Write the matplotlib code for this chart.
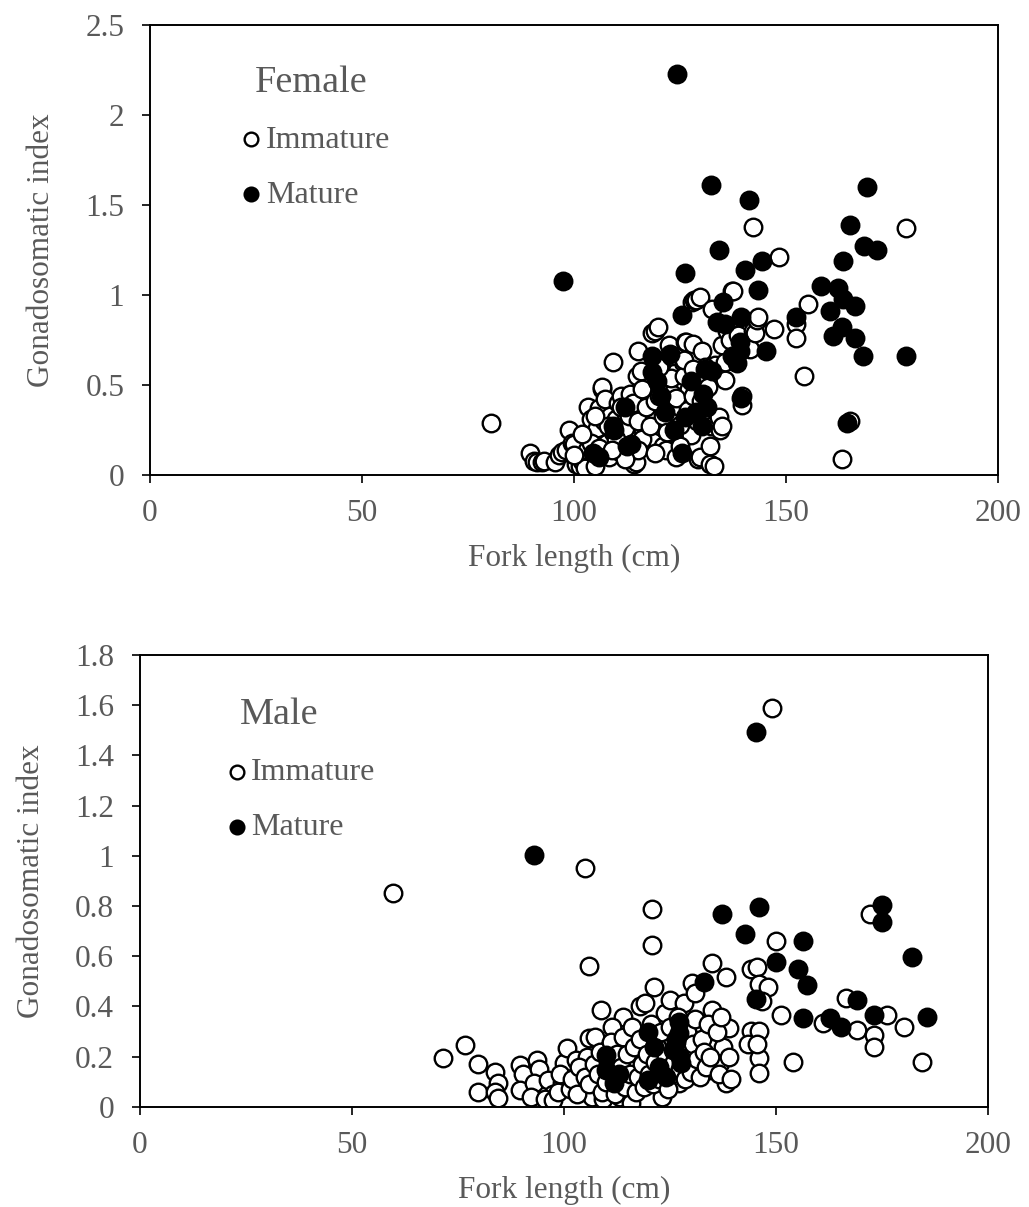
import matplotlib.pyplot as plt

# female, immature (fork length cm, GSI)
fem_imm_fl = [80.4, 89.6, 90.5, 91.2, 92.5, 93.0, 95.5, 96.5, 97.2, 98.2, 98.8, 99.5, 100.1, 100.5,
              101.4, 102.0, 102.7, 103.0, 103.4, 104.1, 104.5, 105.0, 105.5, 106.0, 106.5, 106.7,
              107.0, 107.3, 107.8, 108.2, 108.6, 109.3, 109.3, 110.0, 110.5, 110.8, 111.2, 111.9,
              112.3, 112.8, 113.3, 113.8, 114.2, 114.6, 114.8, 115.2, 115.5, 115.9, 116.2, 116.8,
              117.2, 117.6, 118.0, 118.3, 118.5, 119.1, 119.4, 119.8, 120.2, 120.6, 121.1, 121.2,
              121.6, 121.8, 122.2, 122.5, 122.8, 123.2, 123.8, 124.2, 124.5, 125.0, 125.7, 126.2,
              126.4, 126.8, 127.2, 127.7, 127.9, 128.1, 128.4, 128.9, 129.3, 129.7, 129.7, 130.1,
              130.5, 131.0, 131.7, 132.1, 132.1, 132.3, 132.5, 133.0, 133.3, 134.3, 134.4, 134.8,
              135.0, 135.6, 135.6, 136.2, 136.9, 137.2, 137.6, 138.2, 138.8, 139.6, 139.6, 141.5,
              142.2, 142.3, 142.8, 143.1, 143.5, 147.2, 148.4, 152.3, 152.3, 154.3, 155.3, 163.2,
              165.2, 178.2,
              111, 112, 113, 114, 115, 116, 117, 118, 119, 120, 121, 122, 123, 124, 125, 126, 127,
              128, 129, 130, 131, 118.6, 120, 123, 126, 128, 116, 113, 115, 119, 124, 125, 104, 106,
              108, 110, 112, 109, 100, 102, 105]
fem_imm_gsi = [0.29, 0.12, 0.08, 0.07, 0.07, 0.08, 0.07, 0.11, 0.13, 0.14, 0.25, 0.18, 0.17, 0.06,
               0.05, 0.08, 0.04, 0.14, 0.38, 0.31, 0.22, 0.05, 0.26, 0.37, 0.48, 0.49,
               0.30, 0.42, 0.18, 0.10, 0.33, 0.63, 0.24, 0.31, 0.40, 0.13, 0.44, 0.19,
               0.34, 0.28, 0.45, 0.22, 0.06, 0.07, 0.55, 0.69, 0.36, 0.58, 0.25, 0.43,
               0.31, 0.17, 0.47, 0.19, 0.79, 0.80, 0.35, 0.82, 0.27, 0.52, 0.16, 0.49,
               0.40, 0.14, 0.62, 0.72, 0.30, 0.45, 0.32, 0.58, 0.21, 0.38, 0.63, 0.74,
               0.74, 0.27, 0.48, 0.22, 0.96, 0.73, 0.97, 0.97, 0.09, 0.99, 0.10, 0.69,
               0.56, 0.35, 0.49, 0.16, 0.06, 0.27, 0.92, 0.05, 0.61, 0.32, 0.25, 0.72,
               0.27, 0.53, 0.63, 0.80, 0.75, 1.02, 1.02, 0.66, 0.78, 0.44, 0.39, 0.70,
               1.38, 0.80, 0.79, 0.86, 0.88, 0.81, 1.21, 0.84, 0.76, 0.55, 0.95, 0.09,
               0.30, 1.37,
               0.38, 0.26, 0.33, 0.40, 0.30, 0.20, 0.38, 0.27, 0.41, 0.44, 0.33, 0.24, 0.54, 0.43,
               0.28, 0.55, 0.36, 0.44, 0.30, 0.41, 0.60, 0.57, 0.60, 0.66, 0.64, 0.59, 0.48, 0.13,
               0.14, 0.12, 0.10, 0.16, 0.18, 0.15, 0.27, 0.20, 0.09, 0.14, 0.11, 0.23, 0.33]

# female, mature
fem_mat_fl = [97.3, 104.6, 106, 109.3, 109.4, 112.0, 112.4, 113.4, 118.3, 118.3, 119.5, 120.5,
              121.5, 122.6, 123.6, 124.3, 125.4, 125.4, 126.2, 126.3, 127.5, 128.7, 130.1, 130.5,
              130.9, 131.3, 132.3, 132.5, 133.7, 134.3, 135.2, 135.6, 137.2, 138.4, 139.2, 139.2,
              139.4, 139.5, 140.3, 141.3, 143.3, 144.3, 145.3, 152.3, 158.2, 160.4, 161.2, 162.3,
              163.3, 163.4, 163.5, 164.3, 165.2, 166.3, 166.3, 168.2, 168.3, 169.2, 171.4, 178.3]
fem_mat_gsi = [1.08, 0.12, 0.10, 0.27, 0.25, 0.38, 0.16, 0.17, 0.66, 0.57, 0.52, 0.44,
               0.35, 0.67, 0.25, 2.23, 0.89, 0.12, 0.32, 1.12, 0.52, 0.35, 0.27, 0.45,
               0.59, 0.38, 1.61, 0.58, 0.85, 1.25, 0.96, 0.84, 0.66, 0.62, 0.74, 0.69,
               0.88, 0.43, 1.14, 1.53, 1.03, 1.19, 0.69, 0.88, 1.05, 0.91, 0.77, 1.04,
               0.82, 1.19, 0.98, 0.29, 1.39, 0.94, 0.76, 0.66, 1.27, 1.60, 1.25, 0.66]

# male, immature
male_imm_fl = [149.1, 59.8, 105.0, 120.8, 120.8, 105.9, 172.1, 150.0, 144.2, 145.5, 146.1, 148.1,
               146.8, 151.2, 166.6, 161.2, 169.1, 173.1, 173.1, 176.3, 180.3, 184.5, 154.0, 146.1,
               146.1, 144.2, 146.1, 143.5, 145.5,
               71.6, 76.7, 79.8, 83.7, 84.4, 79.8, 83.7, 84.4, 89.6, 90.3, 93.6, 94.2, 89.6, 92.9,
               92.2, 96.2, 97.5, 95.5, 97.5, 99.5, 100.1,
               100.8, 102.8, 104.1, 105.4, 106.0, 104.7, 106.7, 108.0, 109.3, 109.3, 110.6, 111.9,
               113.3, 113.9, 115.9, 116.6, 117.2, 117.9, 119.2, 121.2, 121.8, 123.1, 123.8, 125.1,
               125.7, 127.1, 128.4, 129.0, 130.3, 131.0, 131.7, 133.0, 134.3, 135.0, 135.0, 135.6,
               136.9, 137.6, 138.2, 138.2, 138.9, 108.7, 111.3, 107.3,
               98.5, 99, 101.5, 102, 103, 103.5, 105, 106, 107, 108, 108.5, 109, 110, 110.5, 111,
               112, 112.5, 113, 113.5, 114, 114.5, 115, 115.5, 116, 116.5, 117, 117.5, 118, 118.5,
               119, 119.5, 120, 120.5, 121, 121.5, 122, 122.5, 123, 123.5, 124, 124.5, 125, 125.5,
               126, 126.5, 127, 127.5, 128, 128.5, 129, 129.5, 130, 130.5, 131, 131.5, 132, 132.5,
               133, 133.5, 134, 134.5, 136, 136.5, 137, 139, 139.5]
male_imm_gsi = [1.59, 0.85, 0.95, 0.79, 0.645, 0.56, 0.77, 0.66, 0.55, 0.556, 0.49, 0.478,
                0.42, 0.366, 0.433, 0.333, 0.307, 0.287, 0.24, 0.366, 0.32, 0.18, 0.18, 0.196,
                0.137, 0.302, 0.302, 0.249, 0.249,
                0.196, 0.247, 0.17, 0.14, 0.094, 0.061, 0.061, 0.035, 0.166, 0.133, 0.186, 0.153,
                0.066, 0.094, 0.04, 0.106, 0.053, 0.033, 0.027, 0.094, 0.173,
                0.234, 0.187, 0.134, 0.2, 0.273, 0.081, 0.04, 0.094, 0.16, 0.033, 0.067, 0.134,
                0.04, 0.36, 0.014, 0.094, 0.187, 0.4, 0.413, 0.479, 0.28, 0.04, 0.373, 0.426,
                0.227, 0.094, 0.413, 0.174, 0.493, 0.453, 0.293, 0.313, 0.147, 0.386, 0.572, 0.24,
                0.174, 0.24, 0.519, 0.094, 0.313, 0.386, 0.32, 0.28,
                0.06, 0.13, 0.07, 0.11, 0.05, 0.16, 0.12, 0.09, 0.17, 0.13, 0.22, 0.06, 0.10, 0.18,
                0.26, 0.05, 0.21, 0.10, 0.16, 0.28, 0.08, 0.21, 0.13, 0.32, 0.24, 0.06, 0.12, 0.27,
                0.17, 0.08, 0.21, 0.13, 0.33, 0.09, 0.18, 0.24, 0.11, 0.30, 0.15, 0.20, 0.07, 0.32,
                0.13, 0.18, 0.27, 0.36, 0.15, 0.22, 0.11, 0.30, 0.20, 0.14, 0.25, 0.35, 0.19, 0.12,
                0.27, 0.22, 0.16, 0.33, 0.20, 0.30, 0.13, 0.36, 0.20, 0.11]

# male, mature
male_mat_fl = [145.2, 92.9, 137.2, 146.1, 142.8, 156.4, 150.0, 155.3, 157.3, 145.2, 133.0, 156.4,
               162.8, 165.4, 169.1, 173.1, 175.0, 175.0, 182.2, 185.6, 110.0, 119.8, 127.1, 127.1,
               121.2, 122.5, 127.7, 110.0, 111.9, 119.8, 125.7, 127.5, 126.5, 113, 124]
male_mat_gsi = [1.495, 1.004, 0.769, 0.798, 0.689, 0.661, 0.576, 0.55, 0.486, 0.43, 0.499, 0.353,
                0.353, 0.32, 0.426, 0.366, 0.804, 0.738, 0.599, 0.36, 0.207, 0.30, 0.34, 0.293,
                0.24, 0.16, 0.174, 0.147, 0.094, 0.106, 0.227, 0.2, 0.26, 0.13, 0.12]

plt.rcParams['font.family'] = ['Liberation Serif', 'DejaVu Serif']
grey = '#595959'
fs = 22.5

fig = plt.figure(figsize=(10.29, 12.07), dpi=100)
ax1 = fig.add_axes([0.1458, 0.6065, 0.824, 0.3728])
ax2 = fig.add_axes([0.136, 0.0829, 0.824, 0.3745])

panels = [
    (ax1, fem_imm_fl, fem_imm_gsi, fem_mat_fl, fem_mat_gsi, 'Female', 2.5, 0.5,
     (0.124, 0.871), (0.110, 0.777)),
    (ax2, male_imm_fl, male_imm_gsi, male_mat_fl, male_mat_gsi, 'Male', 1.8, 0.2,
     (0.118, 0.867), (0.105, 0.772)),
]

for ax, ix, iy, mx, my, title, ymax, ystep, tpos, lpos in panels:
    h1 = ax.scatter(ix, iy, s=160, facecolors='white', edgecolors='black', linewidths=1.7,
                    label='Immature', zorder=2)
    h2 = ax.scatter(mx, my, s=160, facecolors='black', edgecolors='black', linewidths=1.7,
                    label='Mature', zorder=3)
    ax.set_xlim(0, 200)
    ax.set_ylim(0, ymax)
    ax.set_xticks([0, 50, 100, 150, 200])
    n = int(round(ymax / ystep))
    ticks = [round(i * ystep, 1) for i in range(n + 1)]
    ax.set_yticks(ticks)
    ax.set_yticklabels(['%g' % t for t in ticks])
    ax.tick_params(direction='out', length=5.5, width=1.2, labelsize=fs, labelcolor=grey)
    ax.tick_params(axis='x', pad=12)
    ax.tick_params(axis='y', pad=13)
    for sp in ax.spines.values():
        sp.set_linewidth(1.4)
    ax.set_xlabel('Fork length (cm)', fontsize=fs, color=grey, labelpad=11.5)
    ax.set_ylabel('Gonadosomatic index', fontsize=fs, color=grey, labelpad=21)
    ax.text(tpos[0], tpos[1], title, transform=ax.transAxes, fontsize=27.5, color=grey,
            ha='left', va='center')
    ax.legend(handles=[h1, h2], loc='upper left', bbox_to_anchor=lpos,
              frameon=False, fontsize=23, labelcolor=grey,
              markerscale=0.78, handletextpad=0.2, handlelength=0.5, labelspacing=0.8,
              borderpad=0, borderaxespad=0)

fig.savefig('out.png', dpi=100)
